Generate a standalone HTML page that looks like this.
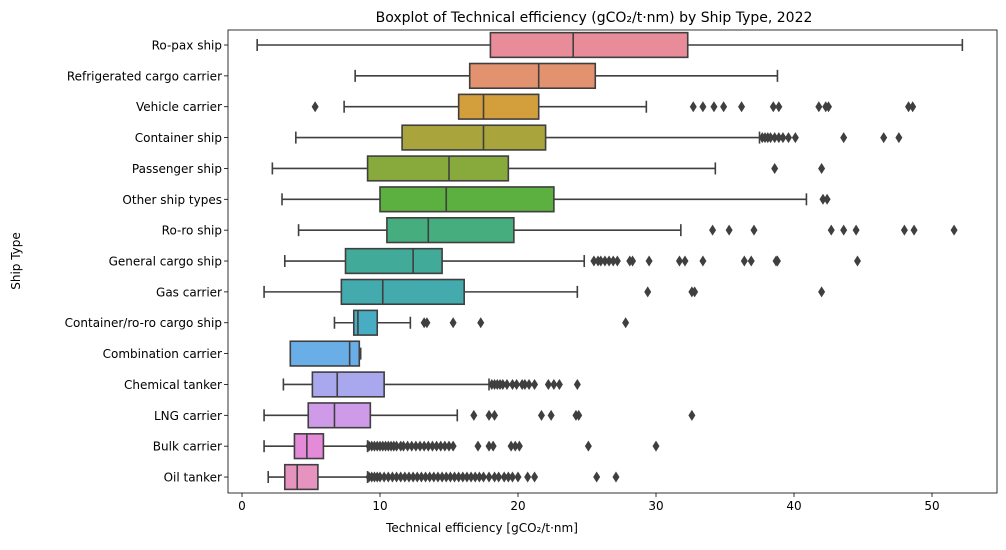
<!DOCTYPE html>
<html><head><meta charset="utf-8"><style>
body{margin:0;background:#fff;font-family:"Liberation Sans","DejaVu Sans",sans-serif}
svg text{font-family:"DejaVu Sans","Liberation Sans",sans-serif;fill:#000}
</style></head><body>
<svg id="chart" width="1006" height="545" xmlns="http://www.w3.org/2000/svg">
<text x="594" y="22" font-size="14" text-anchor="middle">Boxplot of Technical efficiency (gCO₂/t·nm) by Ship Type, 2022</text>
<text x="482" y="532" font-size="12" text-anchor="middle">Technical efficiency [gCO₂/t·nm]</text>
<text transform="translate(20,261) rotate(-90)" font-size="12" text-anchor="middle">Ship Type</text>
<g id="plot"></g>
</svg>
<script>
const categories=["Ro-pax ship","Refrigerated cargo carrier","Vehicle carrier","Container ship","Passenger ship","Other ship types","Ro-ro ship","General cargo ship","Gas carrier","Container/ro-ro cargo ship","Combination carrier","Chemical tanker","LNG carrier","Bulk carrier","Oil tanker"];
const whiskerLow=[1.1,8.2,7.4,3.9,2.2,2.9,4.1,3.1,1.6,6.7,3.5,3.0,1.6,1.6,1.9];
const q1=[18,16.5,15.7,11.6,9.1,10,10.5,7.5,7.2,8.1,3.5,5.1,4.8,3.8,3.1];
const medians=[24,21.5,17.5,17.5,15,14.8,13.5,12.4,10.2,8.4,7.8,6.9,6.7,4.7,4.0];
const q3=[32.3,25.6,21.5,22,19.3,22.6,19.7,14.5,16.1,9.8,8.5,10.3,9.3,5.9,5.5];
const whiskerHigh=[52.2,38.8,29.3,37.5,34.3,40.9,31.8,24.8,24.3,12.2,8.6,17.9,15.6,9.1,9.1];
const outliers=[
[],[],
[5.3,32.7,33.4,34.2,34.9,36.2,38.5,38.9,41.8,42.3,42.5,48.3,48.6],
[37.7,37.9,38.1,38.3,38.6,38.9,39.2,39.6,40.1,43.6,46.5,47.6],
[38.6,42],
[42.1,42.4],
[34.1,35.3,37.1,42.7,43.6,44.5,48,48.7,51.6],
[25.5,25.8,26,26.3,26.6,26.9,27.2,28.1,28.3,29.5,31.7,32.1,33.4,36.4,36.9,38.7,38.8,44.6],
[29.4,32.6,32.8,42],
[13.2,13.4,15.3,17.3,27.8],
[],
[18.1,18.3,18.5,18.7,18.9,19.2,19.6,19.9,20.3,20.5,20.8,21.2,22.2,22.6,23,24.3],
[16.8,17.9,18.3,21.7,22.4,24.2,24.4,32.6],
[9.2,9.4,9.6,9.8,10,10.2,10.4,10.6,10.8,11,11.2,11.5,11.7,12,12.3,12.6,12.9,13.2,13.5,13.8,14.1,14.4,14.7,15,15.3,17.1,17.9,18.2,19.5,19.8,20.1,25.1,30],
[9.2,9.4,9.6,9.8,10,10.3,10.6,10.9,11.2,11.5,11.8,12.1,12.4,12.7,13,13.3,13.6,13.9,14.2,14.5,14.8,15.1,15.4,15.7,16,16.3,16.6,16.9,17.2,17.5,17.9,18.3,18.6,19,19.3,19.6,20,20.7,21.2,25.7,27.1]
];
const colors=["#e98c99","#e39270","#d29f3c","#a9a43c","#88aa3c","#5bb03f","#45ad7e","#42aa99","#43aaad","#48acc3","#6aaee8","#a9a7ed","#cf9ae8","#e48ad9","#e693bf"];
const xTicks=[0,10,20,30,40,50];
const L=228,R=997,T=30,B=493;
const xs=v=>242+v*13.8;
const ys=i=>45+i*30.86;
const NS="http://www.w3.org/2000/svg";
const g=document.getElementById('plot');
function mk(tag,at,p){const e=document.createElementNS(NS,tag);for(const k in at)e.setAttribute(k,at[k]);(p||g).appendChild(e);return e;}
const stroke="#3f3f3f";
categories.forEach((c,i)=>{
  const y=ys(i),h=24.7;
  const grp=mk('g',{});
  
  
  mk('line',{x1:xs(whiskerLow[i]),x2:xs(q1[i]),y1:y,y2:y,stroke:stroke,'stroke-width':1.6},grp);
  mk('line',{x1:xs(q3[i]),x2:xs(whiskerHigh[i]),y1:y,y2:y,stroke:stroke,'stroke-width':1.6},grp);
  mk('line',{x1:xs(whiskerLow[i]),x2:xs(whiskerLow[i]),y1:y-6,y2:y+6,stroke:stroke,'stroke-width':1.6},grp);
  mk('line',{x1:xs(whiskerHigh[i]),x2:xs(whiskerHigh[i]),y1:y-6,y2:y+6,stroke:stroke,'stroke-width':1.6},grp);
  mk('rect',{x:xs(q1[i]),y:y-h/2,width:xs(q3[i])-xs(q1[i]),height:h,fill:colors[i],stroke:stroke,'stroke-width':1.6},grp);
  mk('line',{x1:xs(medians[i]),x2:xs(medians[i]),y1:y-h/2,y2:y+h/2,stroke:stroke,'stroke-width':1.6},grp);
  outliers[i].forEach(v=>{const x=xs(v);mk('polygon',{points:`${x},${y-5.5} ${x+3.5},${y} ${x},${y+5.5} ${x-3.5},${y}`,fill:stroke},grp);});
  const t=mk('text',{x:222,y:y+4.5,'font-size':12,'text-anchor':'end'});
  t.textContent=c;
  
  
  mk('line',{x1:L-4,x2:L,y1:y,y2:y,stroke:'#000','stroke-width':0.8});
});
xTicks.forEach(v=>{
  mk('line',{x1:xs(v),x2:xs(v),y1:B,y2:B+4,stroke:'#000','stroke-width':0.8});
  const t=mk('text',{x:xs(v),y:B+17,'font-size':12,'text-anchor':'middle'});
  t.textContent=v;
  
  
});
const frame=mk('rect',{x:L,y:T,width:R-L,height:B-T,fill:'none',stroke:'#000','stroke-width':0.8});


</script>
</body></html>
